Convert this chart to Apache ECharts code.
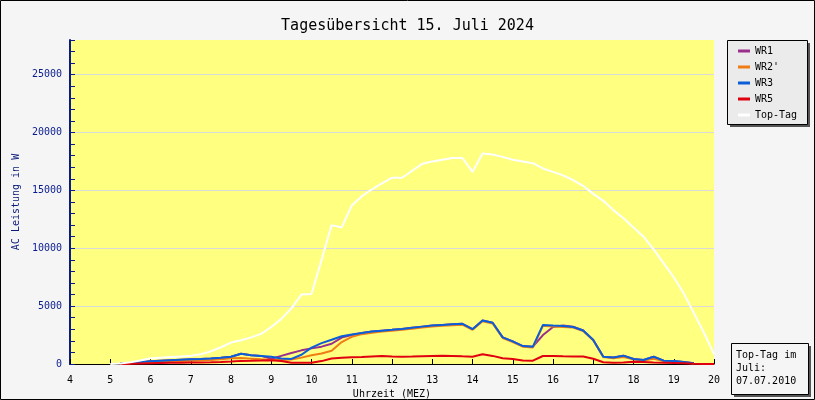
<!DOCTYPE html>
<html><head><meta charset="utf-8">
<script src="https://cdn.jsdelivr.net/npm/echarts@6/dist/echarts.min.js"></script>
<style>html,body{margin:0;padding:0;background:#F5F5F5}#c{width:815px;height:400px}</style>
</head><body><div id="c"></div>
<script>
// time grid in hours (15-minute steps)
const hours = [5.00,5.25,5.5,5.75,6.0,6.25,6.5,6.75,7.0,7.25,7.5,7.75,8.0,8.25,8.5,8.75,9.0,9.25,9.5,9.75,10.0,10.25,10.5,10.75,11.0,11.25,11.5,11.75,12.0,12.25,12.5,12.75,13.0,13.25,13.5,13.75,14.0,14.25,14.5,14.75,15.0,15.25,15.5,15.75,16.0,16.25,16.5,16.75,17.0,17.25,17.5,17.75,18.0,18.25,18.5,18.75,19.0,19.25,19.5,19.75,20.0];
const xTicks = [4,5,6,7,8,9,10,11,12,13,14,15,16,17,18,19,20];
const yTicks = [0,5000,10000,15000,20000,25000];

const wr1 = [null,50,100,170,230,280,330,370,410,440,480,530,620,880,760,700,450,700,950,1180,1350,1500,1750,2280,2500,2680,2800,2880,2950,3030,3130,3230,3330,3380,3430,3470,3010,3760,3560,2300,1950,1550,1500,2500,3200,3330,3220,2900,2080,630,560,720,430,350,630,290,250,180,60,null,null];
const wr2 = [null,30,70,120,160,200,230,260,290,320,350,400,500,520,460,400,350,350,380,550,760,900,1150,1900,2350,2580,2700,2800,2870,2950,3050,3150,3250,3300,3350,3400,2950,3700,3500,2250,1900,1500,1430,3300,3250,3200,3150,2850,2050,600,500,600,400,300,450,250,200,120,40,null,null];
const wr3 = [null,50,100,170,230,280,330,370,410,440,480,530,620,880,760,700,620,480,440,800,1420,1800,2100,2400,2550,2680,2800,2880,2950,3030,3130,3230,3330,3380,3430,3470,3010,3760,3560,2300,1950,1550,1500,3380,3320,3280,3200,2900,2080,630,560,720,430,350,630,290,250,180,60,null,null];
const wr5 = [null,10,30,50,70,90,100,110,120,130,150,180,220,270,280,300,330,250,110,100,110,250,480,530,580,600,650,690,650,630,650,680,700,720,700,660,630,840,700,500,430,300,290,690,690,660,650,640,450,150,100,120,200,180,120,100,80,60,30,10,0];
const topTag = [0,50,150,300,500,550,600,650,720,850,1100,1450,1850,2050,2300,2600,3200,3900,4800,6000,6050,9000,12000,11800,13700,14500,15100,15600,16100,16100,16700,17300,17500,17650,17800,17800,16600,18200,18100,17900,17650,17500,17350,16900,16600,16300,15900,15400,14700,14100,13300,12600,11800,11000,9900,8700,7500,6100,4400,2700,850];

const names = ['WR1', "WR2'", 'WR3', 'WR5', 'Top-Tag'];
const colors = ['#9A2F8C', '#F07D14', '#0A5ED7', '#E0000F', '#FFFFFF'];
const seriesData = [wr1, wr2, wr3, wr5, topTag];

const FONT = "'DejaVu Sans Mono', monospace";
const pair = arr => hours.map((h, i) => [h, arr[i]]);

const chart = echarts.init(document.getElementById('c'), null, {renderer: 'canvas'});
chart.setOption({
  animation: false,
  backgroundColor: '#F5F5F5',
  textStyle: {fontFamily: FONT},
  title: {
    text: 'Tagesübersicht 15. Juli 2024',
    left: 'center', top: 14,
    textStyle: {fontFamily: FONT, fontSize: 15, fontWeight: 'normal', color: '#000'}
  },
  grid: {
    left: 70, right: 101, top: 40, bottom: 36,
    outerBoundsMode: 'none', containLabel: false,
    show: true, backgroundColor: '#FFFF80', borderWidth: 0
  },
  legend: {
    orient: 'vertical', left: 738, top: 45, padding: 0,
    itemGap: 4, itemWidth: 12, itemHeight: 3, icon: 'rect',
    data: names,
    textStyle: {fontFamily: FONT, fontSize: 10, color: '#000', lineHeight: 12}
  },
  xAxis: {
    type: 'value', min: xTicks[0], max: xTicks[xTicks.length - 1], interval: 1,
    name: 'Uhrzeit (MEZ)', nameLocation: 'middle', nameGap: 24,
    nameTextStyle: {fontFamily: FONT, fontSize: 10, color: '#000'},
    axisLine: {show: true, onZero: false, lineStyle: {color: '#000', width: 1}},
    axisTick: {show: true, inside: true, length: 5, lineStyle: {color: '#000', width: 1}},
    axisLabel: {fontFamily: FONT, fontSize: 10, color: '#000', margin: 11, showMinLabel: true, showMaxLabel: true},
    splitLine: {show: false}
  },
  yAxis: {
    type: 'value', min: yTicks[0], max: 28000, interval: 5000,
    name: 'AC Leistung in W', nameLocation: 'middle', nameGap: 48, nameRotate: 90,
    nameTextStyle: {fontFamily: FONT, fontSize: 10, color: '#0A1C7A'},
    axisLine: {show: true, lineStyle: {color: '#0A1C8C', width: 2}},
    axisTick: {show: true, inside: true, length: 5, lineStyle: {color: '#0A1C8C', width: 1}},
    minorTick: {show: true, splitNumber: 5, length: 5, lineStyle: {color: '#0A1C8C', width: 1}},
    axisLabel: {fontFamily: FONT, fontSize: 10, color: '#0A1C8C', margin: 8, showMaxLabel: false,
      formatter: v => String(v)},
    splitLine: {show: true, showMinLine: false, showMaxLine: false, lineStyle: {color: '#DADADA', width: 1}}
  },
  series: seriesData.map((d, i) => ({
    name: names[i], type: 'line', data: pair(d),
    showSymbol: false, symbol: 'none', smooth: false,
    color: colors[i],
    lineStyle: {color: colors[i], width: 2},
    z: 2 + i
  })),
  graphic: [
    {type: 'rect', z: 100, silent: true, shape: {x: 0.5, y: 0.5, width: 814, height: 399},
     style: {fill: null, stroke: '#000', lineWidth: 1}},
    {type: 'rect', z: 0, silent: true, shape: {x: 730, y: 43, width: 80, height: 84},
     style: {fill: '#555'}},
    {type: 'rect', z: 1, silent: true, shape: {x: 727.5, y: 40.5, width: 80, height: 84},
     style: {fill: '#EBEBEB', stroke: '#000', lineWidth: 1}},
    {type: 'rect', z: 0, silent: true, shape: {x: 734, y: 346, width: 77, height: 51},
     style: {fill: '#555'}},
    {type: 'rect', z: 1, silent: true, shape: {x: 731.5, y: 343.5, width: 77, height: 51},
     style: {fill: '#F5F5F5', stroke: '#000', lineWidth: 1}},
    {type: 'text', z: 2, silent: true, left: 736, top: 349,
     style: {text: 'Top-Tag im\nJuli:\n07.07.2010', font: "10px 'DejaVu Sans Mono', monospace", lineHeight: 13, fill: '#000'}}
  ]
});
</script></body></html>
